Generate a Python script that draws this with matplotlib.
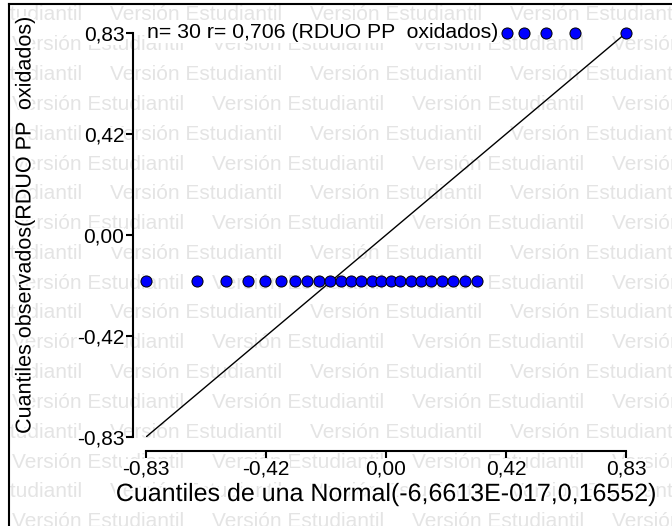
import matplotlib
matplotlib.use('Agg')
import matplotlib.pyplot as plt
import matplotlib.patheffects as pe

plt.rcParams['font.family'] = ['Liberation Sans', 'DejaVu Sans']

# cuantiles teoricos (eje x) y observados (eje y)
x_teor = [-0.830, -0.655, -0.553, -0.478, -0.417, -0.363, -0.316, -0.272,
          -0.231, -0.192, -0.155, -0.120, -0.085, -0.050, -0.017, 0.017,
          0.050, 0.085, 0.120, 0.155, 0.192, 0.231, 0.272, 0.316,
          0.363, 0.417, 0.478, 0.553, 0.655, 0.830]
y_obs = [-0.19] * 24 + [0.83] * 6

ticks = [-0.83, -0.415, 0.0, 0.415, 0.83]
tick_labels = ['-0,83', '-0,42', '0,00', '0,42', '0,83']
titulo = 'n= 30 r= 0,706 (RDUO PP  oxidados)'
xlab = 'Cuantiles de una Normal(-6,6613E-017,0,16552)'
ylab = 'Cuantiles observados(RDUO PP  oxidados)'
marca = 'Versión Estudiantil'

W, H = 672, 526
fig = plt.figure(figsize=(W / 100, H / 100), dpi=100)

# fondo con la marca de agua
bg = fig.add_axes([10 / W, 0, 1 - 10 / W, 1 - 5 / H])
bg.set_xlim(10, W)
bg.set_ylim(H, 5)
bg.axis('off')
for k in range(18):
    yy = 15 + 29.8 * k
    x0 = -90 if k % 2 == 0 else 12
    for m in range(5):
        bg.text(x0 + 200 * m, yy, marca, fontsize=15, color='#e4e4e4',
                ha='left', va='center', clip_on=True)

# marco de la figura
fig.add_artist(plt.Line2D([9 / W, 9 / W], [0, 1 - 4 / H], color='black', lw=1.5))
fig.add_artist(plt.Line2D([9 / W, 1], [1 - 4 / H, 1 - 4 / H], color='black', lw=1.5))

ax = fig.add_axes([146 / W, 1 - 437 / H, 480 / W, 404 / H])
ax.patch.set_alpha(0)
ax.set_xlim(-0.83, 0.83)
ax.set_ylim(-0.83, 0.83)

ax.plot([-0.83, 0.83], [-0.83, 0.83], color='black', lw=1.0, zorder=2)
ax.plot(x_teor, y_obs, 'o', ms=8, mfc='#0000ff', mec='black', mew=0.7,
        clip_on=False, zorder=3)

ax.text(-0.825, 0.83, titulo, fontsize=15.3, ha='left', va='center', zorder=5,
        bbox=dict(facecolor='white', edgecolor='none', pad=0.5))

for s in ['top', 'right']:
    ax.spines[s].set_visible(False)
ax.spines['left'].set_position(('outward', 9.5))
ax.spines['bottom'].set_position(('outward', 10))
for s in ['left', 'bottom']:
    ax.spines[s].set_linewidth(1.5)

ax.set_xticks(ticks)
ax.set_xticklabels(tick_labels)
ax.set_yticks(ticks)
ax.set_yticklabels(tick_labels)
ax.tick_params(direction='out', length=5, width=1.5, labelsize=15, pad=1)
for lb in ax.get_xticklabels() + ax.get_yticklabels():
    lb.set_bbox(dict(facecolor='white', edgecolor='none', pad=0))

halo = [pe.withStroke(linewidth=3, foreground='white')]
fig.text(386 / W, 1 - 494 / H, xlab, fontsize=18, ha='center', va='center',
         path_effects=halo)
fig.text(25 / W, 1 - 226 / H, ylab, fontsize=15.5, ha='center', va='center',
         rotation=90, path_effects=halo)

fig.savefig('out.png', dpi=100, facecolor='white')
